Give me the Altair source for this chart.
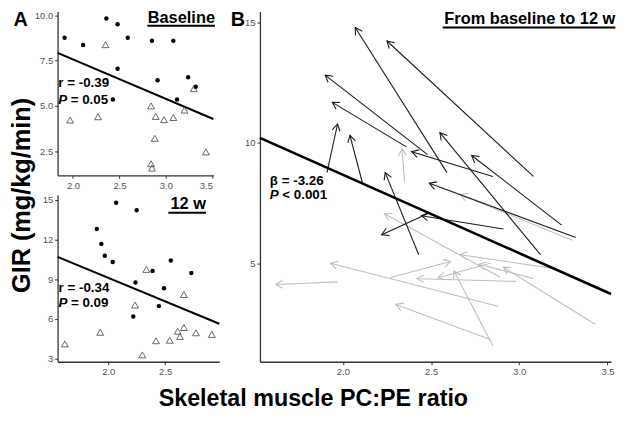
import math
import altair as alt
import pandas as pd

# ---------------- data ----------------
# Responders (black dots / black arrows): baseline -> 12 w
resp_x0 = [2.59, 3.08, 2.48, 2.85, 2.36, 1.91, 2.11, 2.43, 3.12, 3.24, 2.91, 2.48, 3.32]
resp_y0 = [8.76, 8.60, 9.51, 8.60, 9.83, 8.76, 8.36, 5.35, 5.35, 6.58, 6.42, 7.05, 6.06]
resp_x1 = [2.07, 2.25, 1.90, 2.39, 1.94, 1.97, 2.04, 2.24, 2.55, 2.73, 2.445, 2.22, 2.49]
resp_y1 = [14.79, 14.23, 12.81, 9.63, 11.68, 10.78, 10.31, 8.76, 10.42, 9.47, 6.97, 6.18, 8.32]

# Non-responders (open triangles / grey arrows): baseline -> 12 w
non_x0 = [2.35, 3.30, 2.89, 3.20, 3.08, 3.43, 2.98, 2.88, 2.84, 2.85, 2.27, 1.97, 2.84]
non_y0 = [8.38, 5.95, 4.42, 4.77, 4.36, 2.46, 4.24, 3.21, 1.81, 1.57, 4.40, 4.22, 5.00]
non_x1 = [2.335, 2.665, 2.236, 2.665, 2.77, 2.91, 2.42, 1.93, 2.30, 2.63, 2.61, 1.62, 2.54]
non_y1 = [9.75, 7.85, 7.05, 5.35, 4.95, 4.83, 4.35, 4.99, 3.28, 4.67, 5.07, 4.11, 4.39]

# fitted lines: baseline, 12 w, change model
fit_intercept = [11.93, 16.23, 15.19]
fit_slope = [-2.18, -3.56, -3.26]

stat_text = [["r = -0.39", "= 0.05"], ["r = -0.34", "= 0.09"], ["\u03b2 = -3.26", "< 0.001"]]
panel_titles = ["Baseline", "12 w", "From baseline to 12 w"]

# ---------------- layout / style ----------------
FONT = "Liberation Sans"
GREY = "#bebebe"
BLACK = "#1a1a1a"
W_A, H_A = 157, 165
W_A2, H_A2 = 163, 168
W_B, H_B = 354, 353

XD_A = [1.835, 3.51]
YD_A = [1.17, 10.205]
XD_A2 = [1.556, 2.975]
YD_A2 = [2.76, 15.37]
XD_B = [1.53, 3.52]
YD_B = [0.90, 15.45]

one = pd.DataFrame({"k": [0]})


def sc(dom):
    return alt.Scale(domain=dom, nice=False, zero=False)


def line_df(i, dom):
    xs = [dom[0], dom[1]]
    return pd.DataFrame({"x": xs, "y": [fit_intercept[i] + fit_slope[i] * v for v in xs]})


def txt(x, y, s, size=13.5, style="normal", dx=0, align="left"):
    return alt.Chart(one).mark_text(
        text=s, font=FONT, fontSize=size, fontWeight="bold", fontStyle=style,
        align=align, baseline="alphabetic", dx=dx, color="black"
    ).encode(x=alt.datum(x), y=alt.datum(y))


def title_txt(x_r, x_l, y_t, y_u, s):
    t = txt(x_r, y_t, s, size=16.5, align="right")
    u = alt.Chart(one).mark_rule(color="black", strokeWidth=2).encode(
        x=alt.datum(x_l), x2=alt.datum(x_r), y=alt.datum(y_u))
    return [t, u]


def stat_layers(x, y1, y2, i):
    return [
        txt(x, y1, stat_text[i][0]),
        txt(x, y2, "P", style="italic"),
        txt(x, y2, stat_text[i][1], dx=12.5),
    ]


def pix_text(x, y, s, size, angle=0, baseline="alphabetic", align="left"):
    return alt.Chart(one).mark_text(
        text=s, font=FONT, fontSize=size, fontWeight="bold", angle=angle,
        align=align, baseline=baseline, color="black"
    ).encode(x=alt.value(x), y=alt.value(y))


def scatter_panel(xr, yr, xn, yn, xdom, ydom, xt, yt, yfmt, i, w, h, extra):
    X = alt.X("x:Q", scale=sc(xdom), axis=alt.Axis(values=xt, format=".1f", title=None))
    Y = alt.Y("y:Q", scale=sc(ydom), axis=alt.Axis(values=yt, format=yfmt, title=None))
    dots = alt.Chart(pd.DataFrame({"x": xr, "y": yr})).mark_circle(
        size=20, color="black", opacity=1).encode(X, Y)
    tris = alt.Chart(pd.DataFrame({"x": xn, "y": yn})).mark_point(
        shape="triangle-up", filled=False, size=48, color="#555555", strokeWidth=0.9, opacity=1
    ).encode(X, Y)
    fit = alt.Chart(line_df(i, xdom)).mark_line(color="black", strokeWidth=2).encode(X, Y)
    return alt.layer(tris, dots, fit, *extra).properties(width=w, height=h)


# chevron pointing to +x with its tip at the symbol centre
CHEV = "M -1 -0.58 L 0 0 L -1 0.58"


def arrow_df(x0, y0, x1, y1):
    kx = W_B / (XD_B[1] - XD_B[0])
    ky = H_B / (YD_B[1] - YD_B[0])
    ang = []
    for a, b, c, d in zip(x0, y0, x1, y1):
        dx = (c - a) * kx
        dy = -(d - b) * ky
        ang.append(math.degrees(math.atan2(dy, dx)) % 360)
    return pd.DataFrame({"x0": x0, "y0": y0, "x1": x1, "y1": y1, "ang": ang})


def arrows(df, color):
    XB = alt.X("x0:Q", scale=sc(XD_B), axis=alt.Axis(values=[2.0, 2.5, 3.0, 3.5], format=".1f", title=None))
    YB = alt.Y("y0:Q", scale=sc(YD_B), axis=alt.Axis(values=[5, 10, 15], format="d", title=None))
    shaft = alt.Chart(df).mark_rule(color=color, strokeWidth=1.1).encode(
        XB, YB, x2="x1:Q", y2="y1:Q")
    head = alt.Chart(df).mark_point(
        shape=CHEV, filled=False, size=190, color=color, strokeWidth=1.1, opacity=1
    ).encode(x=alt.X("x1:Q", scale=sc(XD_B)), y=alt.Y("y1:Q", scale=sc(YD_B)),
             angle=alt.Angle("ang:Q", scale=None))
    return [shaft, head]


# ---------------- panel A (baseline) ----------------
extraA = stat_layers(1.842, 6.02, 5.12, 0) + title_txt(3.528, 2.80, 9.595, 9.42, panel_titles[0]) + [
    pix_text(-44.5, 14.5, "A", 20),
    pix_text(-35.5, 185.3, "GIR (mg/kg/min)", 25.5, angle=270, baseline="middle", align="center"),
]
panelA = scatter_panel(resp_x0, resp_y0, non_x0, non_y0, XD_A, YD_A,
                       [2.0, 2.5, 3.0, 3.5], [2.5, 5.0, 7.5, 10.0], ".1f", 0, W_A, H_A, extraA)

# ---------------- panel A (12 w) ----------------
extraA2 = stat_layers(1.564, 8.04, 6.88, 1) + title_txt(2.858, 2.528, 14.33, 14.04, panel_titles[1])
panelA2 = scatter_panel(resp_x1, resp_y1, non_x1, non_y1, XD_A2, YD_A2,
                        [2.0, 2.5], [3, 6, 9, 12, 15], "d", 1, W_A2, H_A2, extraA2)

# ---------------- panel B (change) ----------------
dfN = arrow_df(non_x0, non_y0, non_x1, non_y1)
dfR = arrow_df(resp_x0, resp_y0, resp_x1, resp_y1)
XBl = alt.X("x:Q", scale=sc(XD_B))
YBl = alt.Y("y:Q", scale=sc(YD_B))
fitB = alt.Chart(line_df(2, XD_B)).mark_line(color="black", strokeWidth=2.6).encode(XBl, YBl)
layersB = arrows(dfN, GREY) + arrows(dfR, BLACK) + [fitB] + stat_layers(1.586, 8.24, 7.65, 2) \
    + title_txt(3.544, 2.566, 14.95, 14.79, panel_titles[2]) + [
    pix_text(-29.5, 14.5, "B", 20),
]
panelB = alt.layer(*layersB).properties(width=W_B, height=H_B)

left = alt.vconcat(panelA, panelA2, spacing=20, bounds="flush")
chart = alt.hconcat(left, panelB, spacing=7).properties(
    padding={"left": 2, "top": 0, "right": 0, "bottom": 0},
    title=alt.TitleParams("Skeletal muscle PC:PE ratio", orient="bottom", anchor="middle",
                          font=FONT, fontSize=23.5, fontWeight="bold", color="black", offset=11),
).configure_view(stroke=None).configure_axis(
    grid=False, domainColor="#333333", domainWidth=1.3, tickColor="#333333", tickWidth=1,
    tickSize=3, labelColor="#555555", labelFont=FONT, labelFontSize=9.5, labelPadding=2,
)

chart.save("out.html", embed_options={"renderer": "svg", "actions": False})
